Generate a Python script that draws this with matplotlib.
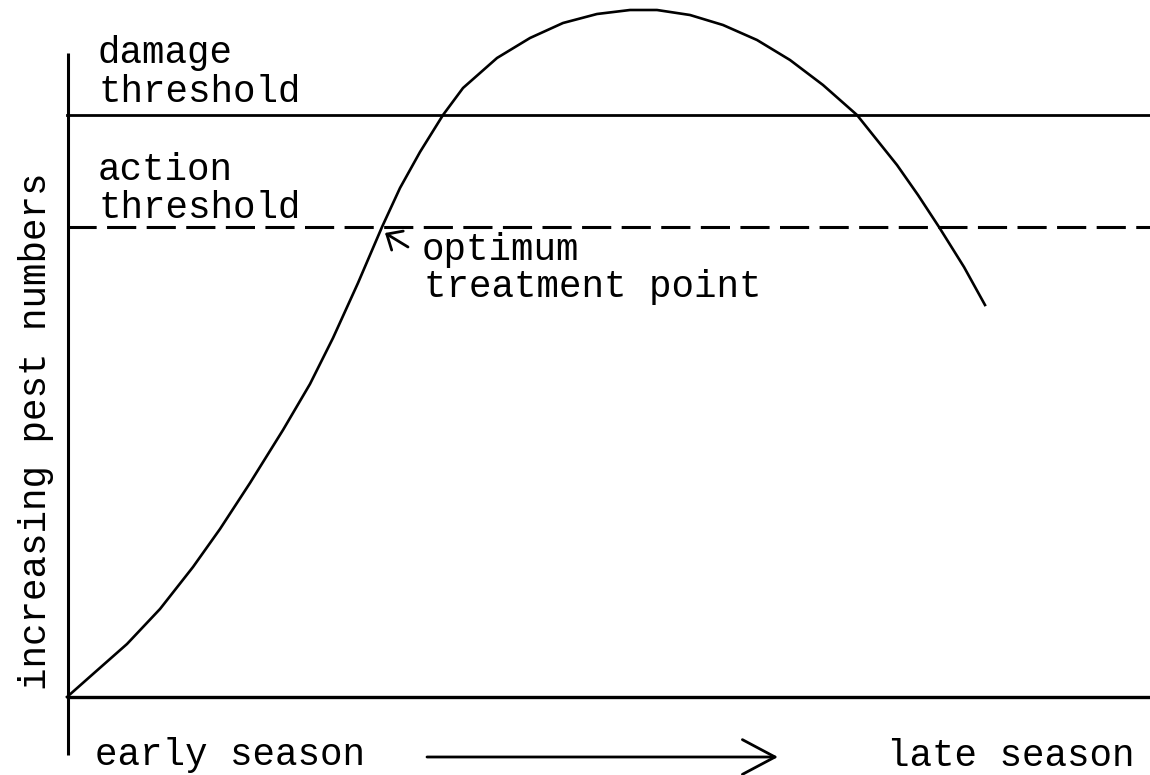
import matplotlib
matplotlib.use("Agg")
import matplotlib.pyplot as plt
from matplotlib.patches import FancyArrowPatch, ArrowStyle

plt.rcParams['lines.scale_dashes'] = False
plt.rcParams['font.family'] = ['Liberation Mono', 'DejaVu Sans Mono']

# Season position (x) and pest numbers (y)
season = [0, 26, 60, 93, 126, 153, 183, 216, 243, 266, 291, 315, 333, 353, 376,
          396, 430, 463, 496, 530, 563, 590, 623, 656, 690, 723, 756, 790, 830,
          851, 872, 897, 918]
pests = [0, 23, 53, 88, 130, 168, 214, 267, 313, 359, 414, 470, 509, 545, 582,
         609, 639, 659, 674, 683, 687, 687, 682, 672, 657, 637, 612, 582, 532,
         502, 470, 430, 392]

damage_threshold = 582
action_threshold = 470

damage_labels = ["damage", "threshold"]
action_labels = ["action", "threshold"]
point_labels = ["optimum", "treatment point"]
x_left_label = "early season"
x_right_label = "late season"
y_label = "increasing pest numbers"

FS = 27
INK = "black"

fig = plt.figure(figsize=(11.5, 7.75), dpi=100)
ax = fig.add_axes([0, 0, 1, 1])
ax.set_xlim(-67, 1083)
ax.set_ylim(-78, 697)
ax.axis("off")

# axes lines
ax.plot([1, 1], [-58, 644], color=INK, lw=2.2, solid_capstyle="butt")
ax.plot([0, 1083], [0, 0], color=INK, lw=2.4, solid_capstyle="butt")

# thresholds
ax.plot([0, 1083], [damage_threshold, damage_threshold], color=INK, lw=2.0)
ax.plot([0, 1083], [action_threshold, action_threshold], color=INK, lw=2.2,
        dashes=(21, 7.5))

# pest curve
ax.plot(season, pests, color=INK, lw=1.9, solid_joinstyle="round")

# threshold labels
ax.text(31, 634, damage_labels[0], fontsize=FS, va="baseline", ha="left")
ax.text(31, 595, damage_labels[1], fontsize=FS, va="baseline", ha="left")
ax.text(31, 517, action_labels[0], fontsize=FS, va="baseline", ha="left")
ax.text(31, 479, action_labels[1], fontsize=FS, va="baseline", ha="left")

# optimum treatment point
ax.text(355, 437, point_labels[0], fontsize=FS, va="baseline", ha="left")
ax.text(357, 400, point_labels[1], fontsize=FS, va="baseline", ha="left")
small = FancyArrowPatch((341, 450), (318, 464),
                        arrowstyle=ArrowStyle("->", head_length=9, head_width=8),
                        mutation_scale=1, lw=2.0, color=INK,
                        shrinkA=0, shrinkB=0)
ax.add_patch(small)

# x labels and arrow
ax.text(28, -68, x_left_label, fontsize=FS, va="baseline", ha="left")
ax.text(820, -69, x_right_label, fontsize=FS, va="baseline", ha="left")
big = FancyArrowPatch((360, -60), (711, -60),
                      arrowstyle=ArrowStyle("->", head_length=23.5, head_width=12.5),
                      mutation_scale=1, lw=2.0, color=INK,
                      shrinkA=0, shrinkB=0)
ax.add_patch(big)

# y label
ax.text(-31, 266, y_label, fontsize=FS, rotation=90, va="center", ha="center")

fig.savefig("out.png", dpi=100)
